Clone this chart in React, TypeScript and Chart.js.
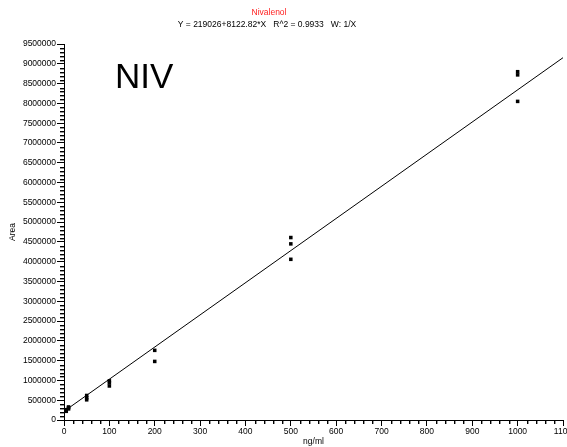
import React, { useEffect, useRef } from "react";
import { Chart, registerables } from "chart.js";

Chart.register(...registerables);

const TITLE = "Nivalenol";
const SUBTITLE = "Y = 219026+8122.82*X   R^2 = 0.9933   W: 1/X";
const LABEL_TEXT = "NIV";
const X_TITLE = "ng/ml";
const Y_TITLE = "Area";

const concX = [5, 5, 10, 10, 10, 50, 50, 50, 100, 100, 100, 200, 200, 500, 500, 500, 1000, 1000, 1000];
const areaY = [
  220000, 260000, 280000, 310000, 330000,
  510000, 560000, 620000,
  860000, 940000, 990000,
  1480000, 1760000,
  4060000, 4450000, 4610000,
  8050000, 8720000, 8800000,
];

const INTERCEPT = 219026;
const SLOPE = 8122.82;
const LINE_X = [0, 1100];

const X_MIN = 0;
const X_MAX = 1100;
const X_MAJOR = 100;
const X_MINOR = 20;
const Y_MIN = 0;
const Y_MAX = 9500000;
const Y_MAJOR = 500000;
const Y_MINOR = 100000;

const FONT = "Arial, 'Liberation Sans', sans-serif";

export default function App() {
  const ref = useRef<HTMLCanvasElement | null>(null);

  useEffect(() => {
    document.body.style.margin = "0";
    document.body.style.overflow = "hidden";
    const canvas = ref.current;
    if (!canvas) return;

    const minorTicks = {
      id: "minorTicks",
      afterDraw(chart: any) {
        const ctx = chart.ctx;
        const xs = chart.scales.x;
        const ys = chart.scales.y;
        const area = chart.chartArea;
        ctx.save();
        ctx.fillStyle = "#000";
        const xSteps = Math.round((X_MAX - X_MIN) / X_MINOR);
        const xRatio = Math.round(X_MAJOR / X_MINOR);
        for (let i = 1; i <= xSteps; i++) {
          if (i % xRatio === 0) continue;
          const px = Math.round(xs.getPixelForValue(X_MIN + i * X_MINOR));
          ctx.fillRect(px, Math.round(area.bottom), 1.4, 4);
        }
        const ySteps = Math.round((Y_MAX - Y_MIN) / Y_MINOR);
        const yRatio = Math.round(Y_MAJOR / Y_MINOR);
        for (let i = 1; i <= ySteps; i++) {
          if (i % yRatio === 0) continue;
          const py = Math.round(ys.getPixelForValue(Y_MIN + i * Y_MINOR));
          ctx.fillRect(Math.round(area.left) - 4, py, 4, 1.4);
        }

        // titles
        ctx.textAlign = "center";
        ctx.textBaseline = "middle";
        ctx.font = `8.5px ${FONT}`;
        ctx.fillStyle = "#ff2020";
        ctx.fillText(TITLE, 269, 13);
        ctx.fillStyle = "#000";
        ctx.fillText(SUBTITLE, 267, 25);

        // big label
        ctx.textAlign = "left";
        ctx.textBaseline = "alphabetic";
        ctx.font = `35px ${FONT}`;
        ctx.fillText(LABEL_TEXT, 115, 88);
        ctx.restore();
      },
    };

    const chart = new Chart(canvas, {
      type: "scatter",
      data: {
        datasets: [
          {
            type: "line",
            data: LINE_X.map((x) => ({ x, y: INTERCEPT + SLOPE * x })),
            borderColor: "#000",
            borderWidth: 1,
            pointRadius: 0,
            fill: false,
          } as any,
          {
            data: concX.map((x, i) => ({ x, y: areaY[i] })),
            backgroundColor: "#000",
            borderWidth: 0,
            pointStyle: "rect",
            pointRadius: 2.5,
          },
        ],
      },
      options: {
        animation: false,
        responsive: false,
        devicePixelRatio: 1,
        layout: { padding: { top: 44, left: 0, right: 0, bottom: 0 } },
        plugins: {
          legend: { display: false },
          tooltip: { enabled: false },
          title: { display: false },
        },
        scales: {
          x: {
            type: "linear",
            min: X_MIN,
            max: X_MAX,
            afterBuildTicks: (scale: any) => {
              const t = [];
              for (let v = X_MIN; v <= X_MAX; v += X_MAJOR) t.push({ value: v });
              scale.ticks = t;
            },
            afterFit: (scale: any) => {
              scale.paddingRight = 0;
              scale.paddingLeft = 0;
              scale.height = 27;
            },
            border: { display: true, color: "#000", width: 1 },
            grid: { drawOnChartArea: false, drawTicks: true, tickLength: 6, color: "#000" },
            ticks: {
              autoSkip: false,
              maxRotation: 0,
              padding: 1,
              color: "#000",
              font: { family: FONT, size: 8.5 },
              callback: (v: any) => String(v),
            },
            title: {
              display: true,
              text: X_TITLE,
              color: "#000",
              font: { family: FONT, size: 8.5 },
              padding: { top: 0, bottom: 0 },
            },
          },
          y: {
            type: "linear",
            min: Y_MIN,
            max: Y_MAX,
            afterBuildTicks: (scale: any) => {
              const t = [];
              for (let v = Y_MIN; v <= Y_MAX; v += Y_MAJOR) t.push({ value: v });
              scale.ticks = t;
            },
            afterFit: (scale: any) => {
              scale.width = 64;
              scale.paddingTop = 0;
              scale.paddingBottom = 0;
            },
            border: { display: true, color: "#000", width: 1 },
            grid: { drawOnChartArea: false, drawTicks: true, tickLength: 7, color: "#000" },
            ticks: {
              autoSkip: false,
              padding: 1,
              color: "#000",
              font: { family: FONT, size: 8.5 },
              callback: (v: any) => String(v),
            },
            title: {
              display: true,
              text: Y_TITLE,
              color: "#000",
              font: { family: FONT, size: 8.5 },
              padding: { top: 8, bottom: 0 },
            },
          },
        },
      } as any,
      plugins: [minorTicks],
    });
    return () => chart.destroy();
  }, []);

  return (
    <div style={{ width: 567, height: 447, background: "#fff" }}>
      <canvas ref={ref} width={567} height={447} style={{ display: "block" }} />
    </div>
  );
}
